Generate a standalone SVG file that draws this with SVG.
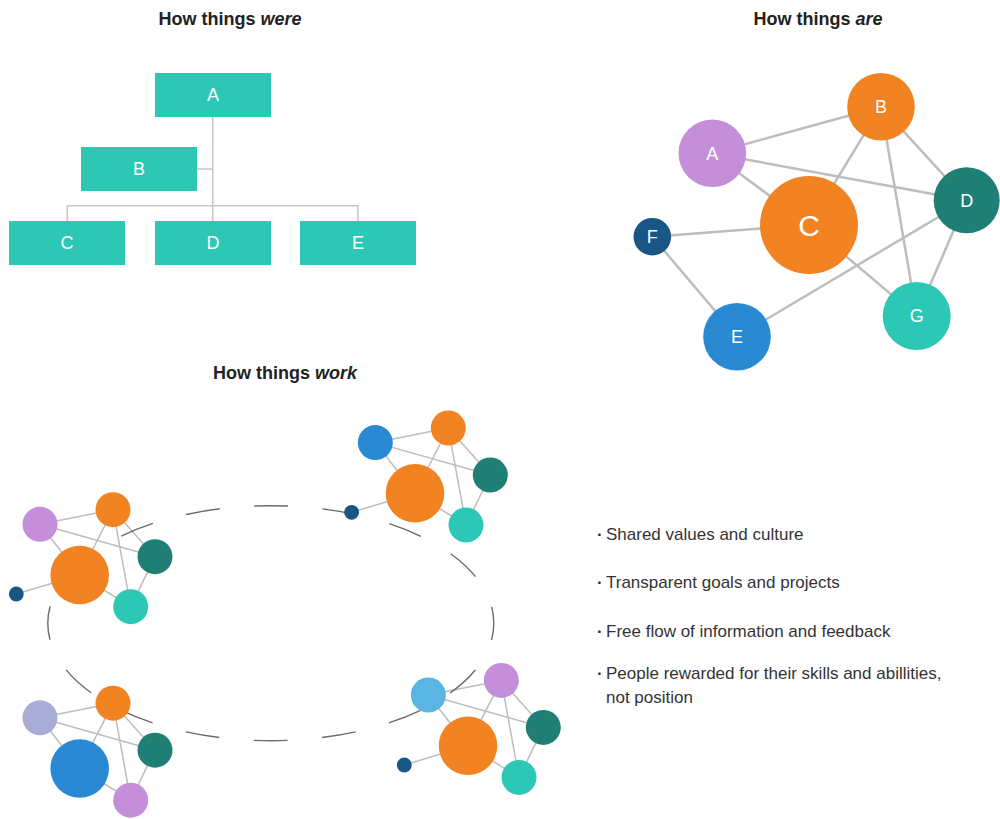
<svg xmlns="http://www.w3.org/2000/svg" width="1000" height="819" viewBox="0 0 1000 819">
<style>
.title{font-family:"Liberation Sans",Arial,sans-serif;font-size:18px;font-weight:bold;fill:#222;text-anchor:middle}
.box{fill:#2DC8B5}
.lbl{font-family:"Liberation Sans",Arial,sans-serif;font-size:18px;fill:#fff;text-anchor:middle}
.big{font-size:30px}
.tree{stroke:#c8c8c8;stroke-width:1.6;fill:none}
.edge{stroke:#bdbdbd;stroke-width:2.5;fill:none}
.sedge{stroke:#bdbdbd;stroke-width:1.5;fill:none}
.bul{font-family:"Liberation Sans",Arial,sans-serif;font-size:17px;fill:#333}
.dot{font-weight:bold}
.purple{fill:#C48FD8}.orange{fill:#F28322}.dgreen{fill:#1F7F74}.teal{fill:#2DC8B5}.navy{fill:#175685}.blue{fill:#2A89D3}.lav{fill:#A9ADD6}.lblue{fill:#5BB5E3}
</style>
<defs>
<g id="cedges">
<line x1="-39.7" y1="-50.7" x2="33.3" y2="-65.3"/>
<line x1="-39.7" y1="-50.7" x2="75.3" y2="-18.3"/>
<line x1="-39.7" y1="-50.7" x2="0" y2="0"/>
<line x1="33.3" y1="-65.3" x2="0" y2="0"/>
<line x1="33.3" y1="-65.3" x2="75.3" y2="-18.3"/>
<line x1="33.3" y1="-65.3" x2="51" y2="31.7"/>
<line x1="75.3" y1="-18.3" x2="51" y2="31.7"/>
<line x1="0" y1="0" x2="51" y2="31.7"/>
</g>
</defs>

<text class="title" x="230" y="25">How things <tspan font-style="italic">were</tspan></text>
<text class="title" x="818" y="25">How things <tspan font-style="italic">are</tspan></text>
<text class="title" x="285" y="379">How things <tspan font-style="italic">work</tspan></text>

<g id="connectors">
<g id="tree-lines" class="tree">
<line x1="212.7" y1="117" x2="212.7" y2="221"/>
<line x1="197" y1="169" x2="212.7" y2="169"/>
<polyline points="67.3,221 67.3,205.7 358,205.7 358,221"/>
</g>
<g id="graph-edges" class="edge">
<line x1="712.3" y1="153.3" x2="881" y2="106.7"/>
<line x1="712.3" y1="153.3" x2="966.7" y2="200.3"/>
<line x1="712.3" y1="153.3" x2="809" y2="225"/>
<line x1="881" y1="106.7" x2="809" y2="225"/>
<line x1="881" y1="106.7" x2="966.7" y2="200.3"/>
<line x1="881" y1="106.7" x2="916.7" y2="316"/>
<line x1="966.7" y1="200.3" x2="916.7" y2="316"/>
<line x1="809" y1="225" x2="916.7" y2="316"/>
<line x1="652.3" y1="236.7" x2="809" y2="225"/>
<line x1="652.3" y1="236.7" x2="737" y2="336.7"/>
<line x1="737" y1="336.7" x2="966.7" y2="200.3"/>
</g>
<g id="cluster-edges" class="sedge">
<use href="#cedges" transform="translate(79.7,575)"/>
<line x1="16.3" y1="594" x2="79.7" y2="575"/>
<use href="#cedges" transform="translate(415,493.3)"/>
<line x1="351.6" y1="512.3" x2="415" y2="493.3"/>
<use href="#cedges" transform="translate(79.7,768.5)"/>
<use href="#cedges" transform="translate(468,745.7)"/>
<line x1="404.3" y1="765" x2="468" y2="745.7"/>
</g>
<ellipse id="cycle" cx="270.8" cy="623.2" rx="223" ry="117.5" fill="none" stroke="#6b6b6b" stroke-width="1.4" stroke-dasharray="34 34.47" stroke-dashoffset="17"/>
</g>

<g id="tree-A"><rect class="box" x="155" y="73" width="116" height="44"/><text class="lbl" x="213" y="101.4">A</text></g>
<g id="tree-B"><rect class="box" x="81" y="147" width="116" height="44"/><text class="lbl" x="139" y="175.4">B</text></g>
<g id="tree-C"><rect class="box" x="9" y="221" width="116" height="44"/><text class="lbl" x="67" y="249.4">C</text></g>
<g id="tree-D"><rect class="box" x="155" y="221" width="116" height="44"/><text class="lbl" x="213" y="249.4">D</text></g>
<g id="tree-E"><rect class="box" x="300" y="221" width="116" height="44"/><text class="lbl" x="358" y="249.4">E</text></g>

<g id="net-A"><circle class="purple" cx="712.3" cy="153.3" r="33.8"/><text class="lbl" x="712.3" y="159.7">A</text></g>
<g id="net-B"><circle class="orange" cx="881" cy="106.7" r="33.8"/><text class="lbl" x="881" y="113.1">B</text></g>
<g id="net-C"><circle class="orange" cx="809" cy="225" r="49"/><text class="lbl big" x="809" y="235.7">C</text></g>
<g id="net-D"><circle class="dgreen" cx="966.7" cy="200.3" r="33"/><text class="lbl" x="966.7" y="206.7">D</text></g>
<g id="net-F"><circle class="navy" cx="652.3" cy="236.7" r="18.8"/><text class="lbl" x="652.3" y="243.1">F</text></g>
<g id="net-E"><circle class="blue" cx="737" cy="336.7" r="33.8"/><text class="lbl" x="737" y="343.1">E</text></g>
<g id="net-G"><circle class="teal" cx="916.7" cy="316" r="34"/><text class="lbl" x="916.7" y="322.4">G</text></g>

<g id="cluster-1" transform="translate(79.7,575)">
<circle class="purple" cx="-39.7" cy="-50.7" r="17.5"/>
<circle class="orange" cx="33.3" cy="-65.3" r="17.5"/>
<circle class="dgreen" cx="75.3" cy="-18.3" r="17.5"/>
<circle class="teal" cx="51" cy="31.7" r="17.5"/>
<circle class="orange" cx="0" cy="0" r="29.3"/>
<circle class="navy" cx="-63.4" cy="19" r="7.4"/>
</g>
<g id="cluster-2" transform="translate(415,493.3)">
<circle class="blue" cx="-39.7" cy="-50.7" r="17.5"/>
<circle class="orange" cx="33.3" cy="-65.3" r="17.5"/>
<circle class="dgreen" cx="75.3" cy="-18.3" r="17.5"/>
<circle class="teal" cx="51" cy="31.7" r="17.5"/>
<circle class="orange" cx="0" cy="0" r="29.3"/>
<circle class="navy" cx="-63.4" cy="19" r="7.4"/>
</g>
<g id="cluster-3" transform="translate(79.7,768.5)">
<circle class="lav" cx="-39.7" cy="-50.7" r="17.5"/>
<circle class="orange" cx="33.3" cy="-65.3" r="17.5"/>
<circle class="dgreen" cx="75.3" cy="-18.3" r="17.5"/>
<circle class="purple" cx="51" cy="31.7" r="17.5"/>
<circle class="blue" cx="0" cy="0" r="29.3"/>
</g>
<g id="cluster-4" transform="translate(468,745.7)">
<circle class="lblue" cx="-39.7" cy="-50.7" r="17.5"/>
<circle class="purple" cx="33.3" cy="-65.3" r="17.5"/>
<circle class="dgreen" cx="75.3" cy="-18.3" r="17.5"/>
<circle class="teal" cx="51" cy="31.7" r="17.5"/>
<circle class="orange" cx="0" cy="0" r="29.3"/>
<circle class="navy" cx="-63.7" cy="19.3" r="7.4"/>
</g>

<g id="bullets">
<text class="bul" y="540"><tspan class="dot" x="597">·</tspan><tspan x="606">Shared values and culture</tspan></text>
<text class="bul" y="588"><tspan class="dot" x="597">·</tspan><tspan x="606">Transparent goals and projects</tspan></text>
<text class="bul" y="637"><tspan class="dot" x="597">·</tspan><tspan x="606">Free flow of information and feedback</tspan></text>
<text class="bul" y="679"><tspan class="dot" x="597">·</tspan><tspan x="606">People rewarded for their skills and abillities,</tspan></text>
<text class="bul" x="606" y="703">not position</text>
</g>
</svg>
